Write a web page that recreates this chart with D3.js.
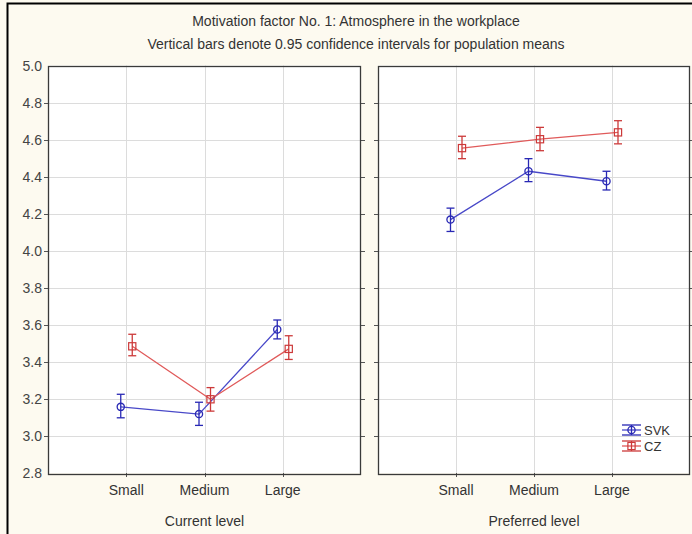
<!DOCTYPE html>
<html><head><meta charset="utf-8">
<script src="https://cdn.jsdelivr.net/npm/d3@7"></script>
<style>body{margin:0;background:#fdfaf0;} svg{display:block;font-family:"Liberation Sans",Arial,sans-serif;}</style>
</head><body>
<script>
const categories = ["Small", "Medium", "Large"];
const panels = ["Current level", "Preferred level"];
const seriesNames = ["SVK", "CZ"];
// means [panel][category]
const svkMean = [[3.157, 3.118, 3.575], [4.168, 4.429, 4.375]];
const svkLow  = [[3.098, 3.057, 3.524], [4.104, 4.373, 4.328]];
const svkHigh = [[3.225, 3.182, 3.626], [4.230, 4.497, 4.429]];
const czMean  = [[3.484, 3.198, 3.470], [4.554, 4.602, 4.639]];
const czLow   = [[3.433, 3.134, 3.413], [4.497, 4.540, 4.577]];
const czHigh  = [[3.549, 3.261, 3.541], [4.618, 4.666, 4.702]];
const yTicks = [2.8, 3.0, 3.2, 3.4, 3.6, 3.8, 4.0, 4.2, 4.4, 4.6, 4.8, 5.0];
const titleLines = ["Motivation factor No. 1: Atmosphere in the workplace",
                    "Vertical bars denote 0.95 confidence intervals for population means"];

const W = 692, H = 534;
const FS = 14;
const svg = d3.select("body").append("svg").attr("width", W).attr("height", H);
svg.append("rect").attr("width", W).attr("height", H).attr("fill", "#fdfaf0");
// outer frame (top and left visible)
svg.append("rect").attr("x", 7.5).attr("y", 3.5).attr("width", W + 20).attr("height", H + 20)
  .attr("fill", "none").attr("stroke", "#000").attr("stroke-width", 2);

svg.selectAll("text.title").data(titleLines).enter().append("text")
  .attr("x", 356).attr("y", (d, i) => 26 + i * 23).attr("text-anchor", "middle")
  .attr("font-size", FS).attr("fill", "#333").text(d => d);

const y = d3.scaleLinear().domain([2.8, 5.0]).range([473, 65.5]);
const panelX = [[48, 361], [378, 690]];
const series = [
  {name: "SVK", mean: svkMean, lo: svkLow, hi: svkHigh, color: "#2828b4", line: "#4848c8", off: -5.5, shape: "circle"},
  {name: "CZ", mean: czMean, lo: czLow, hi: czHigh, color: "#cc3a3a", line: "#e05a5a", off: 6, shape: "square"}
];

function marker(g, shape, cx, cy, color) {
  if (shape === "circle") {
    g.append("circle").attr("cx", cx).attr("cy", cy).attr("r", 3.6)
      .attr("fill", "none").attr("stroke", color).attr("stroke-width", 1.3);
  } else {
    g.append("rect").attr("x", cx - 3.6).attr("y", cy - 3.6).attr("width", 7.2).attr("height", 7.2)
      .attr("fill", "none").attr("stroke", color).attr("stroke-width", 1.2);
  }
}

panels.forEach((pname, p) => {
  const [x0, x1] = panelX[p];
  const x = d3.scalePoint().domain(categories).range([x0, x1]).padding(1);
  const g = svg.append("g");
  g.append("rect").attr("x", x0).attr("y", y(5.0)).attr("width", x1 - x0).attr("height", y(2.8) - y(5.0))
    .attr("fill", "#fff");
  // gridlines
  g.selectAll("line.hg").data(yTicks.slice(1, -1)).enter().append("line")
    .attr("x1", x0).attr("x2", x1).attr("y1", d => Math.round(y(d)) + 0.5).attr("y2", d => Math.round(y(d)) + 0.5)
    .attr("stroke", "#dcdcdc").attr("stroke-width", 1);
  g.selectAll("line.vg").data(categories).enter().append("line")
    .attr("x1", d => Math.round(x(d)) + 0.5).attr("x2", d => Math.round(x(d)) + 0.5)
    .attr("y1", y(5.0)).attr("y2", y(2.8))
    .attr("stroke", "#dcdcdc").attr("stroke-width", 1);
  // ticks outward
  g.selectAll("line.yt").data(yTicks.slice(1, -1)).enter().append("line")
    .attr("x1", x0 - 4).attr("x2", x0).attr("y1", d => Math.round(y(d)) + 0.5).attr("y2", d => Math.round(y(d)) + 0.5)
    .attr("stroke", "#555");
  g.selectAll("line.yt2").data(yTicks.slice(1, -1)).enter().append("line")
    .attr("x1", x1).attr("x2", x1 + 4).attr("y1", d => Math.round(y(d)) + 0.5).attr("y2", d => Math.round(y(d)) + 0.5)
    .attr("stroke", "#555");
  g.selectAll("line.xt").data(categories).enter().append("line")
    .attr("x1", d => Math.round(x(d)) + 0.5).attr("x2", d => Math.round(x(d)) + 0.5)
    .attr("y1", y(2.8)).attr("y2", y(2.8) + 4).attr("stroke", "#555");
  g.append("rect").attr("x", x0 + 0.5).attr("y", Math.round(y(5.0)) + 0.5)
    .attr("width", x1 - x0 - 1).attr("height", Math.round(y(2.8) - y(5.0)))
    .attr("fill", "none").attr("stroke", "#3a3a3a").attr("stroke-width", 1.3);
  // category labels
  g.selectAll("text.cat").data(categories).enter().append("text")
    .attr("x", d => x(d)).attr("y", 495).attr("text-anchor", "middle")
    .attr("font-size", FS).attr("fill", "#333").text(d => d);
  g.append("text").attr("x", x(categories[1])).attr("y", 526).attr("text-anchor", "middle")
    .attr("font-size", FS).attr("fill", "#333").text(pname);
  // series
  series.forEach(s => {
    const pts = categories.map((c, i) => ({cx: x(c) + s.off, m: s.mean[p][i], lo: s.lo[p][i], hi: s.hi[p][i]}));
    g.append("path").attr("d", d3.line().x(d => d.cx).y(d => y(d.m))(pts))
      .attr("fill", "none").attr("stroke", s.line).attr("stroke-width", 1.3);
    pts.forEach(d => {
      g.append("line").attr("x1", d.cx).attr("x2", d.cx).attr("y1", y(d.hi)).attr("y2", y(d.lo))
        .attr("stroke", s.color).attr("stroke-width", 1.3);
      [d.hi, d.lo].forEach(v => g.append("line").attr("x1", d.cx - 4).attr("x2", d.cx + 4)
        .attr("y1", y(v)).attr("y2", y(v)).attr("stroke", s.color).attr("stroke-width", 1.3));
      marker(g, s.shape, d.cx, y(d.m), s.color);
    });
  });
});

// y axis labels
svg.selectAll("text.yl").data(yTicks).enter().append("text")
  .attr("x", 42).attr("y", d => y(d) + 5).attr("text-anchor", "end")
  .attr("font-size", FS).attr("fill", "#444").text(d => d.toFixed(1));

// legend
series.forEach((s, i) => {
  const ly = 430 + i * 16, lx0 = 622, lx1 = 641, lc = (lx0 + lx1) / 2;
  const lg = svg.append("g");
  lg.append("line").attr("x1", lx0).attr("x2", lx1).attr("y1", ly).attr("y2", ly).attr("stroke", s.line).attr("stroke-width", 1.3);
  [-5, 5].forEach(dy => lg.append("line").attr("x1", lx0).attr("x2", lx1).attr("y1", ly + dy).attr("y2", ly + dy)
    .attr("stroke", s.color).attr("stroke-width", 1.3));
  lg.append("line").attr("x1", lc).attr("x2", lc).attr("y1", ly - 5).attr("y2", ly + 5).attr("stroke", s.color).attr("stroke-width", 1.3);
  marker(lg, s.shape, lc, ly, s.color);
  lg.append("text").attr("x", 644).attr("y", ly + 5).attr("font-size", 13).attr("fill", "#333").text(s.name);
});
</script>
</body></html>
